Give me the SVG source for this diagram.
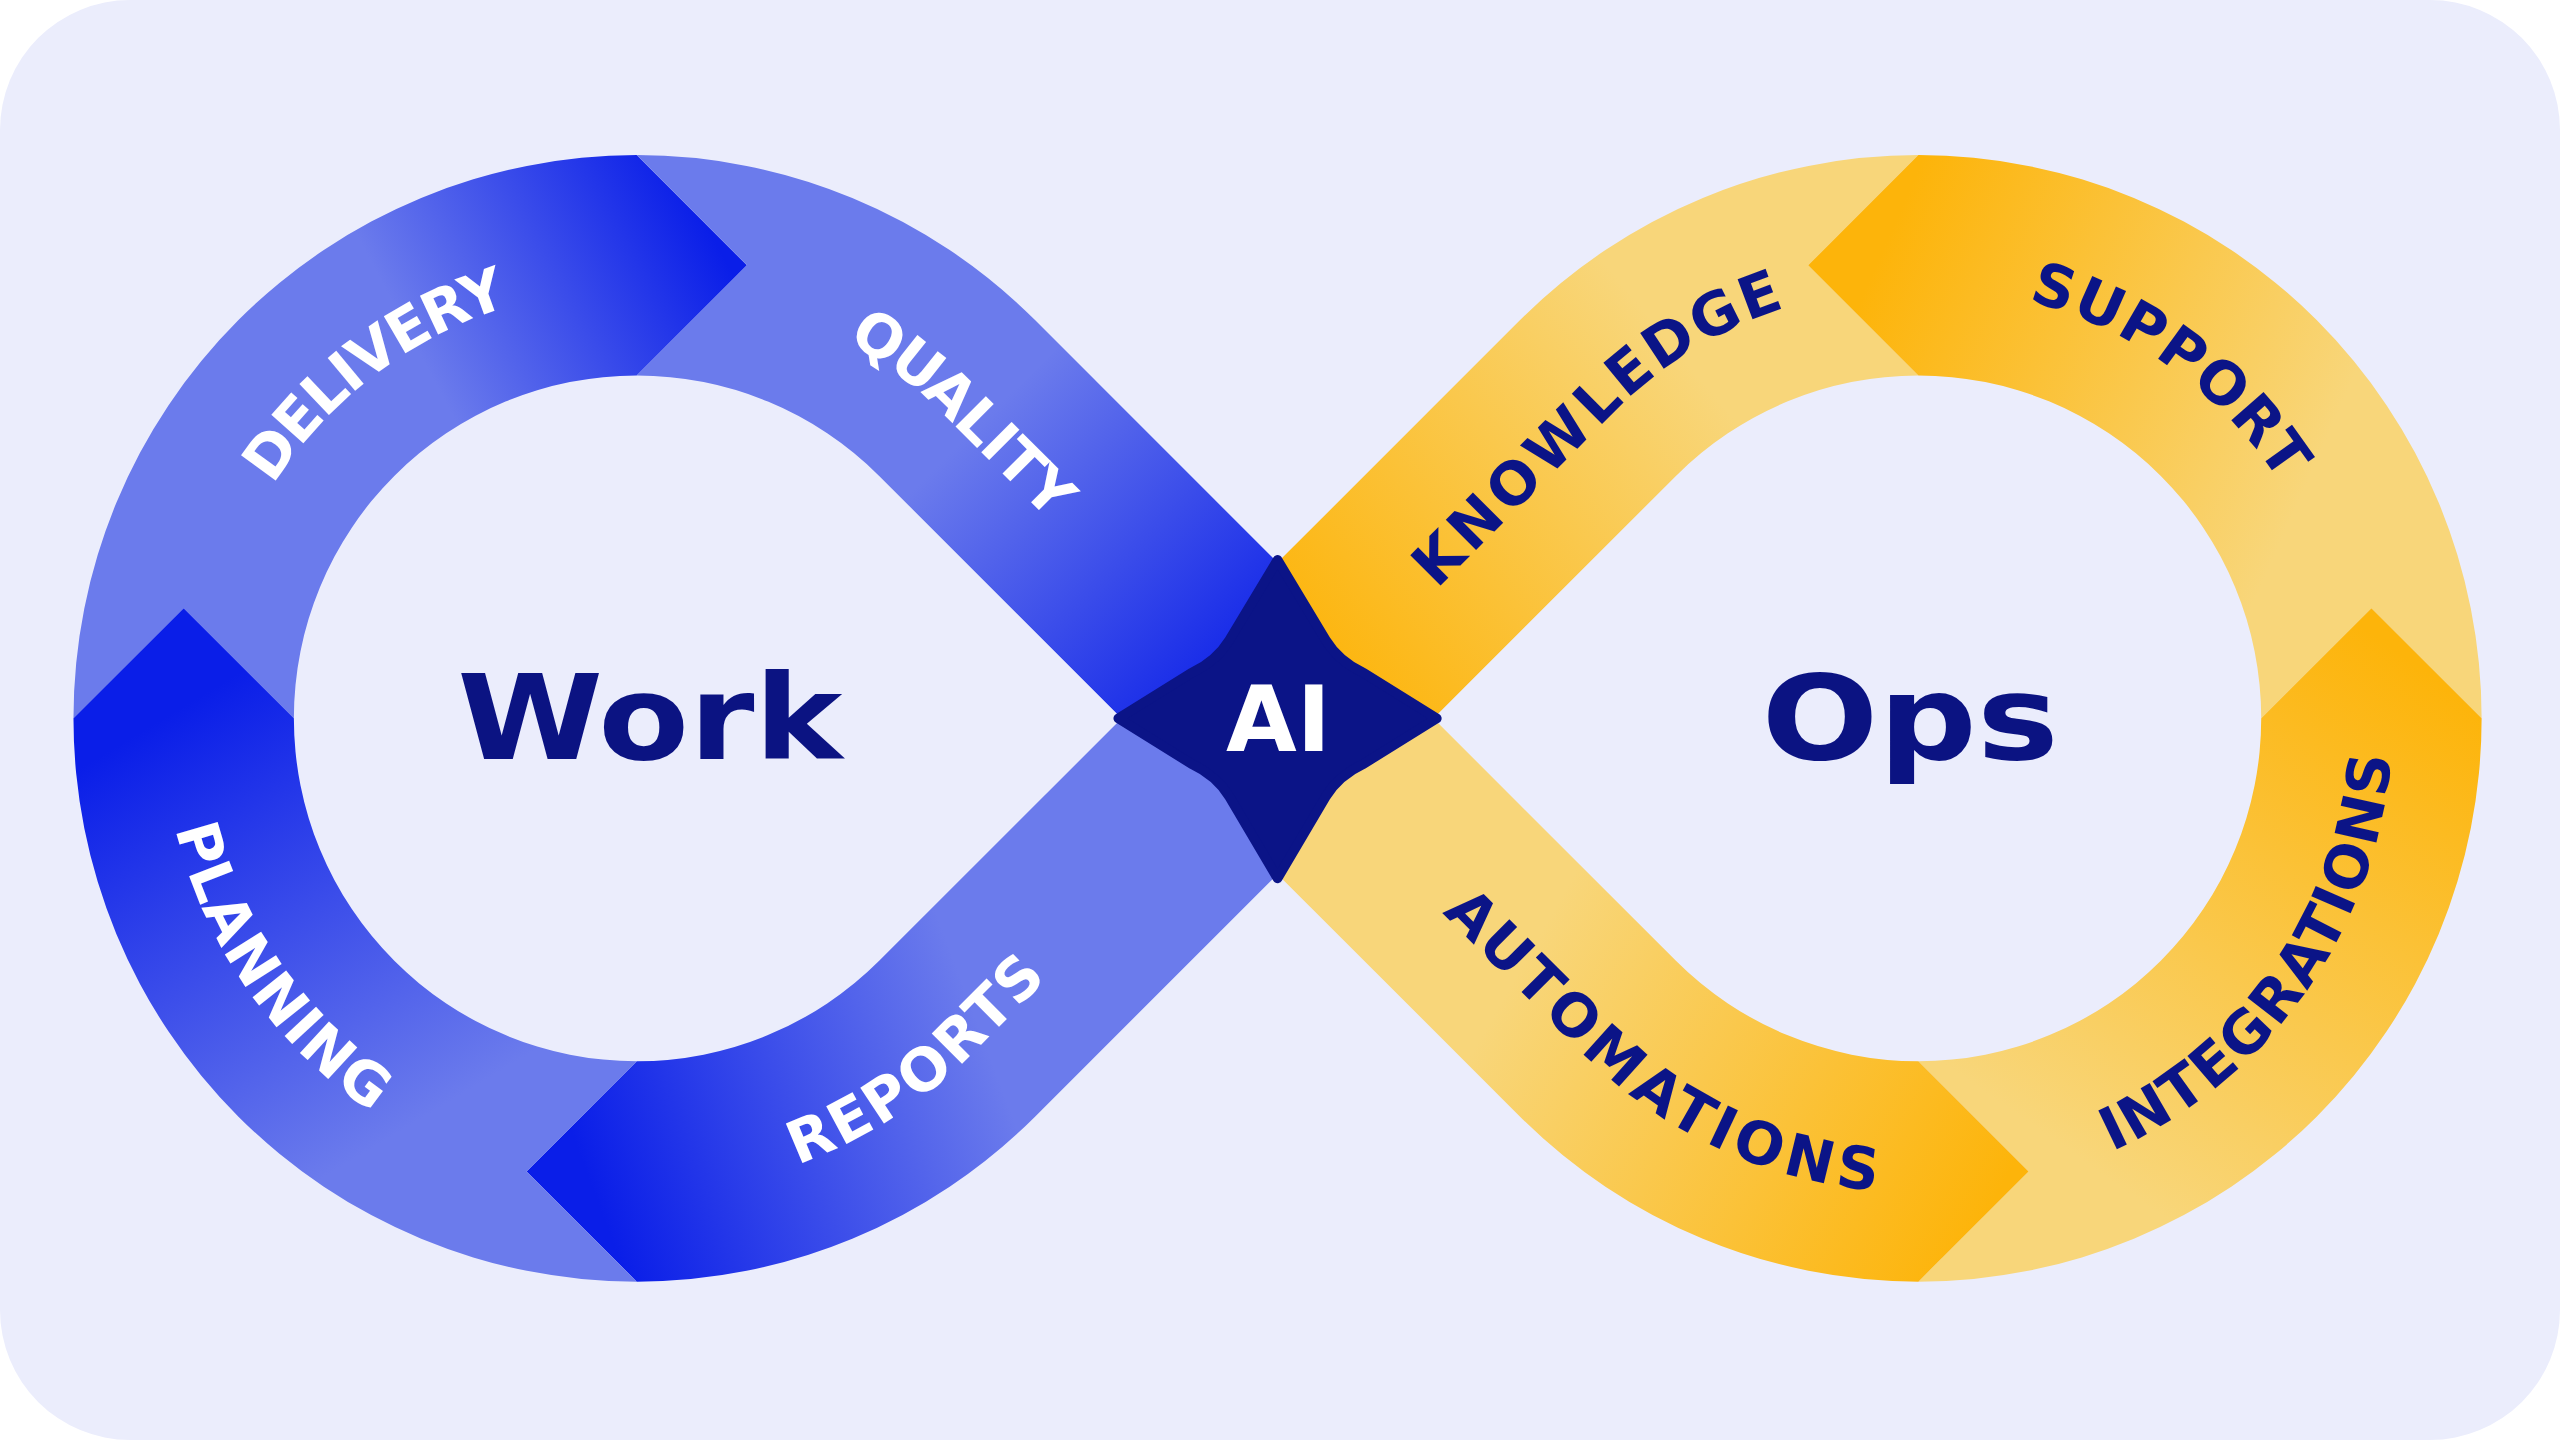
<svg xmlns="http://www.w3.org/2000/svg" width="2560" height="1440" viewBox="0 0 2560 1440">
<defs>
<style>
.lbl{font-family:"DejaVu Sans",sans-serif;font-weight:bold;font-size:36px;letter-spacing:2px}
.w{fill:#ffffff}
.n{fill:#0B1487}
.big{font-family:"DejaVu Sans",sans-serif;font-weight:bold;fill:#0B1382;text-anchor:middle}
</style>
<clipPath id="cTL"><rect x="0" y="0" width="782.5" height="440"/></clipPath>
<clipPath id="cBL"><rect x="0" y="440" width="782.5" height="460"/></clipPath>
<clipPath id="cTR"><rect x="782.5" y="0" width="900" height="440"/></clipPath>
<clipPath id="cBR"><rect x="782.5" y="440" width="900" height="460"/></clipPath>
<linearGradient id="gDel" gradientUnits="userSpaceOnUse" x1="280" y1="260" x2="450" y2="170"><stop offset="0" stop-color="#6B7BEC"/><stop offset="1" stop-color="#0A1EE8"/></linearGradient>
<linearGradient id="gQua" gradientUnits="userSpaceOnUse" x1="600" y1="260" x2="770" y2="430"><stop offset="0" stop-color="#6B7BEC"/><stop offset="1" stop-color="#0A1EE8"/></linearGradient>
<linearGradient id="gRep" gradientUnits="userSpaceOnUse" x1="360" y1="720" x2="600" y2="630"><stop offset="0" stop-color="#0A1EE8"/><stop offset="1" stop-color="#6B7BEC"/></linearGradient>
<linearGradient id="gPla" gradientUnits="userSpaceOnUse" x1="100" y1="440" x2="250" y2="690"><stop offset="0" stop-color="#0A1EE8"/><stop offset="1" stop-color="#6B7BEC"/></linearGradient>
<linearGradient id="gKno" gradientUnits="userSpaceOnUse" x1="810" y1="420" x2="1040" y2="230"><stop offset="0" stop-color="#FDB40A"/><stop offset="1" stop-color="#F8D67A"/></linearGradient>
<linearGradient id="gSup" gradientUnits="userSpaceOnUse" x1="1150" y1="160" x2="1420" y2="280"><stop offset="0" stop-color="#FDB40A"/><stop offset="1" stop-color="#F8D67A"/></linearGradient>
<linearGradient id="gInt" gradientUnits="userSpaceOnUse" x1="1470" y1="400" x2="1260" y2="700"><stop offset="0" stop-color="#FDB40A"/><stop offset="1" stop-color="#F8D67A"/></linearGradient>
<linearGradient id="gAut" gradientUnits="userSpaceOnUse" x1="950" y1="560" x2="1230" y2="720"><stop offset="0" stop-color="#F8D67A"/><stop offset="1" stop-color="#FDB40A"/></linearGradient>
<path id="pDel" d="M119.6,377.6 A277.5,277.5 0 0 1 404.5,162.9"/>
<path id="pQua" d="M318.2,172 A277.5,277.5 0 0 1 586.2,243.8 L736.2,393.8"/>
<path id="pRep" d="M295.1,700.8 A277.5,277.5 0 0 0 586.2,636.2 L736.2,486.2"/>
<path id="pPla" d="M116.7,391.8 A277.5,277.5 0 0 0 341.8,713.3"/>
<path id="pKno" d="M828.8,393.8 L978.8,243.8 A277.5,277.5 0 0 1 1269.9,179.2"/>
<path id="pSup" d="M1131.6,165.9 A277.5,277.5 0 0 1 1449.1,396.6"/>
<path id="pInt" d="M1223.2,713.3 A277.5,277.5 0 0 0 1448.3,391.8"/>
<path id="pAut" d="M828.8,486.2 L978.8,636.2 A277.5,277.5 0 0 0 1223.2,713.3"/>
</defs>
<rect x="0" y="0" width="2560" height="1440" rx="130" fill="#EBEDFC"/>
<g transform="scale(1.63265)">
<g id="segments">
<path id="delivery" fill="url(#gDel)" d="M45,440 A345,345 0 0 1 390,95 L457.5,162.5 L390,230 A210,210 0 0 0 180,440 L112.5,372.5 Z"/>
<path id="quality" clip-path="url(#cTL)" fill="url(#gQua)" d="M390,95 A345,345 0 0 1 633.95,196.05 L900.93,462.97 L805.47,558.43 L538.49,291.51 A210,210 0 0 0 390,230 L457.5,162.5 Z"/>
<path id="reports" clip-path="url(#cBL)" fill="url(#gRep)" d="M900.93,417.03 L633.95,683.95 A345,345 0 0 1 390,785 L322.5,717.5 L390,650 A210,210 0 0 0 538.49,588.49 L805.47,321.57 Z"/>
<path id="planning" fill="url(#gPla)" d="M390,785 A345,345 0 0 1 45,440 L112.5,372.5 L180,440 A210,210 0 0 0 390,650 L322.5,717.5 Z"/>
<path id="knowledge" clip-path="url(#cTR)" fill="url(#gKno)" d="M664.07,462.97 L931.05,196.05 A345,345 0 0 1 1175,95 L1107.5,162.5 L1175,230 A210,210 0 0 0 1026.51,291.51 L759.53,558.43 Z"/>
<path id="support" fill="url(#gSup)" d="M1175,95 A345,345 0 0 1 1520,440 L1452.5,372.5 L1385,440 A210,210 0 0 0 1175,230 L1107.5,162.5 Z"/>
<path id="integrations" fill="url(#gInt)" d="M1520,440 A345,345 0 0 1 1175,785 L1242.5,717.5 L1175,650 A210,210 0 0 0 1385,440 L1452.5,372.5 Z"/>
<path id="automations" clip-path="url(#cBR)" fill="url(#gAut)" d="M759.53,321.57 L1026.51,588.49 A210,210 0 0 0 1175,650 L1242.5,717.5 L1175,785 A345,345 0 0 1 931.05,683.95 L664.07,417.03 Z"/>
</g>
<g id="labels">
<text class="lbl w" dy="0.36em"><textPath href="#pDel" startOffset="50%" text-anchor="middle" textLength="195" lengthAdjust="spacing">DELIVERY</textPath></text>
<text class="lbl w" dy="0.36em"><textPath href="#pQua" startOffset="300" text-anchor="middle" textLength="172" lengthAdjust="spacing">QUALITY</textPath></text>
<text class="lbl w" dy="0.36em"><textPath href="#pRep" startOffset="287" text-anchor="middle" textLength="190" lengthAdjust="spacing">REPORTS</textPath></text>
<text class="lbl w" dy="0.36em"><textPath href="#pPla" startOffset="50%" text-anchor="middle" textLength="210" lengthAdjust="spacing">PLANNING</textPath></text>
<text class="lbl n" dy="0.36em"><textPath href="#pKno" startOffset="202" text-anchor="middle" textLength="285" lengthAdjust="spacing">KNOWLEDGE</textPath></text>
<text class="lbl n" dy="0.36em"><textPath href="#pSup" startOffset="50%" text-anchor="middle" textLength="205" lengthAdjust="spacing">SUPPORT</textPath></text>
<text class="lbl n" dy="0.36em"><textPath href="#pInt" startOffset="50%" text-anchor="middle" textLength="300" lengthAdjust="spacing">INTEGRATIONS</textPath></text>
<text class="lbl n" dy="0.36em"><textPath href="#pAut" startOffset="249" text-anchor="middle" textLength="318" lengthAdjust="spacing">AUTOMATIONS</textPath></text>
</g>
<g id="ai">
<path d="M782.5,343 L812,392 Q820,405 835,412 L880,440 L835,468 Q820,475 812,488 L782.5,538 L753,488 Q745,475 730,468 L685,440 L730,412 Q745,405 753,392 Z" fill="#0B1487" stroke="#0B1487" stroke-width="6" stroke-linejoin="round"/>
<text x="783" y="460" font-family="DejaVu Sans, sans-serif" font-weight="bold" font-size="56" fill="#ffffff" text-anchor="middle">AI</text>
</g>
<g id="work"><text class="big" x="398" y="465" font-size="72" textLength="236" lengthAdjust="spacingAndGlyphs">Work</text></g>
<g id="ops"><text class="big" x="1170" y="465" font-size="72" textLength="182" lengthAdjust="spacingAndGlyphs">Ops</text></g>
</g>
</svg>
